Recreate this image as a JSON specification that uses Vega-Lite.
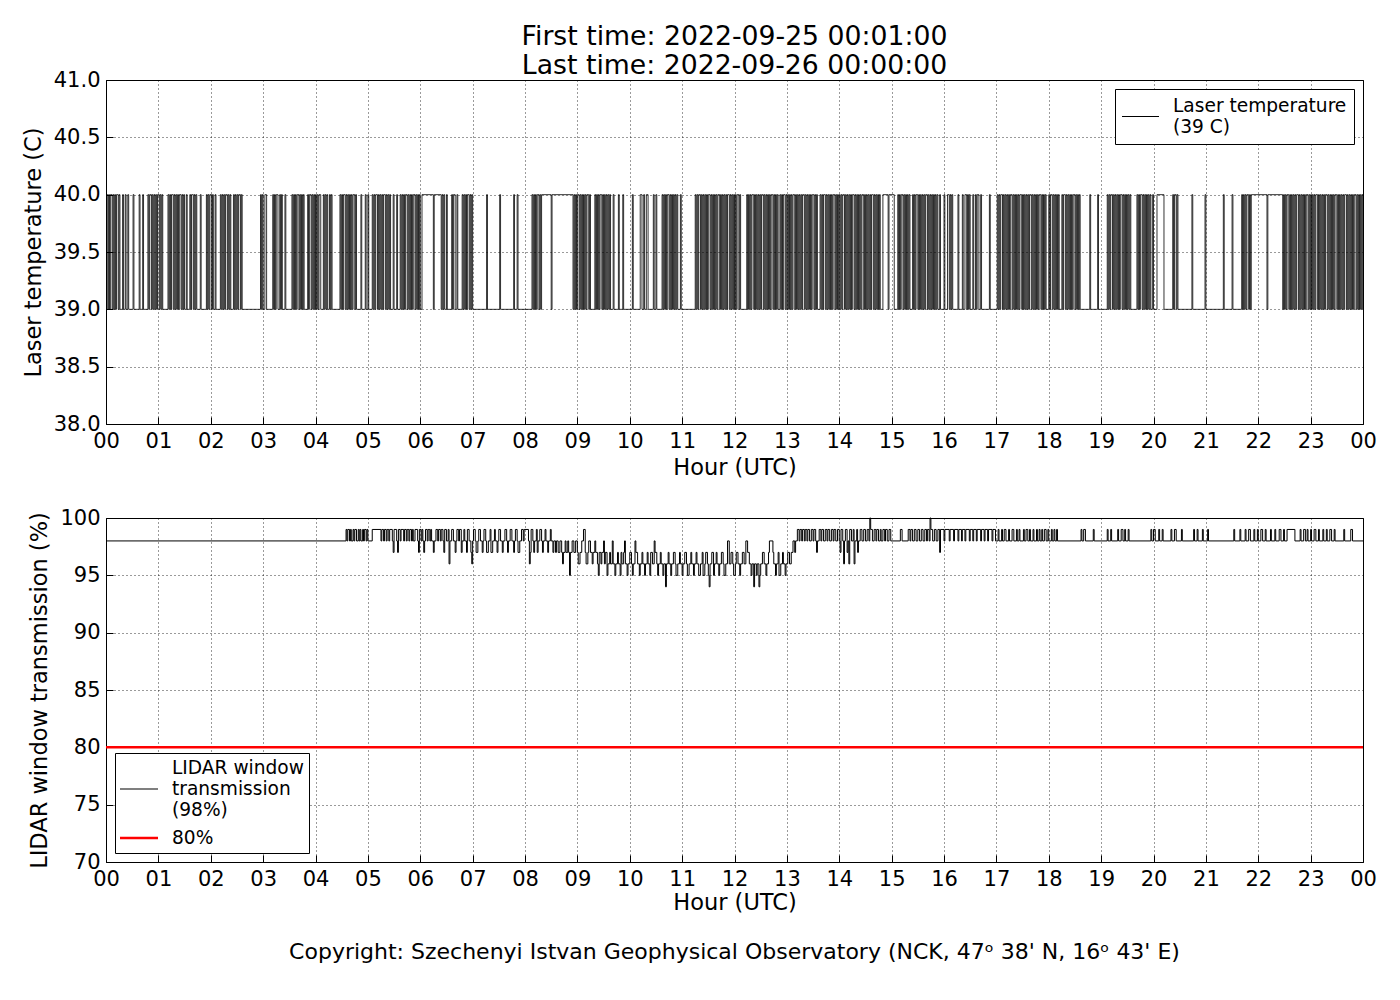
{
  "$schema": "https://vega.github.io/schema/vega-lite/v6.json",
  "background": "white",
  "padding": {"left": 21, "top": 23, "right": 10, "bottom": 10},
  "config": {
    "font": "DejaVu Sans",
    "view": {"stroke": "black", "strokeWidth": 1},
    "axis": {
      "domain": false,
      "grid": true,
      "gridColor": "black",
      "gridDash": [1, 3],
      "gridWidth": 0.8,
      "tickColor": "black",
      "tickSize": -7,
      "tickWidth": 1,
      "labelPadding": 13,
      "labelFontSize": 21,
      "labelColor": "black",
      "labelFlush": false,
      "labelOverlap": false,
      "titleFontSize": 22.5,
      "titleFontWeight": "normal",
      "titleColor": "black",
      "titlePadding": 8
    },
    "legend": {
      "strokeColor": "black",
      "fillColor": "white",
      "cornerRadius": 0,
      "labelFontSize": 18.6,
      "labelColor": "black",
      "labelOffset": 14,
      "labelLimit": 400,
      "rowPadding": 8,
      "symbolType": "stroke"
    }
  },
  "datasets": {
    "laser": [
      {"m":1,"v":40},{"m":2,"v":39},{"m":3,"v":40},{"m":4,"v":39},{"m":5,"v":40},{"m":7,"v":39},{"m":8,"v":40},{"m":9,"v":39},{"m":10,"v":40},{"m":11,"v":39},{"m":12,"v":40},{"m":14,"v":39},{"m":15,"v":40},{"m":16,"v":39},
      {"m":19,"v":40},{"m":20,"v":39},{"m":22,"v":40},{"m":23,"v":39},{"m":25,"v":40},{"m":26,"v":39},{"m":31,"v":40},{"m":32,"v":39},{"m":38,"v":40},{"m":39,"v":39},{"m":42,"v":40},{"m":43,"v":39},
      {"m":48,"v":40},{"m":49,"v":39},{"m":50,"v":40},{"m":52,"v":39},{"m":53,"v":40},{"m":54,"v":39},{"m":55,"v":40},{"m":56,"v":39},{"m":57,"v":40},{"m":58,"v":39},{"m":59,"v":40},{"m":61,"v":39},{"m":62,"v":40},{"m":63,"v":39},{"m":64,"v":40},{"m":65,"v":39},
      {"m":71,"v":40},{"m":72,"v":39},{"m":73,"v":40},{"m":74,"v":39},{"m":75,"v":40},{"m":77,"v":39},{"m":78,"v":40},{"m":79,"v":39},{"m":80,"v":40},{"m":81,"v":39},{"m":82,"v":40},{"m":83,"v":39},{"m":84,"v":40},{"m":86,"v":39},{"m":87,"v":40},{"m":88,"v":39},
      {"m":89,"v":40},{"m":90,"v":39},{"m":92,"v":40},{"m":93,"v":39},{"m":96,"v":40},{"m":97,"v":39},{"m":98,"v":40},{"m":100,"v":39},{"m":101,"v":40},{"m":102,"v":39},{"m":103,"v":40},{"m":104,"v":39},{"m":108,"v":40},{"m":109,"v":39},
      {"m":115,"v":40},{"m":116,"v":39},{"m":117,"v":40},{"m":118,"v":39},{"m":119,"v":40},{"m":121,"v":39},{"m":122,"v":40},{"m":123,"v":39},{"m":125,"v":40},{"m":126,"v":39},
      {"m":131,"v":40},{"m":132,"v":39},{"m":133,"v":40},{"m":134,"v":39},{"m":135,"v":40},{"m":136,"v":39},{"m":137,"v":40},{"m":139,"v":39},{"m":140,"v":40},{"m":141,"v":39},{"m":142,"v":40},{"m":143,"v":39},
      {"m":146,"v":40},{"m":147,"v":39},{"m":148,"v":40},{"m":149,"v":39},{"m":150,"v":40},{"m":151,"v":39},{"m":152,"v":40},{"m":154,"v":39},{"m":155,"v":40},{"m":156,"v":39},
      {"m":177,"v":40},{"m":178,"v":39},{"m":179,"v":40},{"m":180,"v":39},{"m":182,"v":40},{"m":184,"v":39},
      {"m":191,"v":40},{"m":192,"v":39},{"m":193,"v":40},{"m":194,"v":39},{"m":195,"v":40},{"m":197,"v":39},{"m":199,"v":40},{"m":200,"v":39},{"m":201,"v":40},{"m":202,"v":39},{"m":205,"v":40},{"m":206,"v":39},
      {"m":213,"v":40},{"m":214,"v":39},{"m":215,"v":40},{"m":216,"v":39},{"m":217,"v":40},{"m":218,"v":39},{"m":219,"v":40},{"m":221,"v":39},{"m":222,"v":40},{"m":223,"v":39},{"m":224,"v":40},{"m":225,"v":39},{"m":226,"v":40},{"m":227,"v":39},
      {"m":231,"v":40},{"m":232,"v":39},{"m":233,"v":40},{"m":235,"v":39},{"m":236,"v":40},{"m":237,"v":39},{"m":238,"v":40},{"m":239,"v":39},{"m":240,"v":40},{"m":241,"v":39},{"m":242,"v":40},{"m":243,"v":39},{"m":244,"v":40},{"m":246,"v":39},
      {"m":249,"v":40},{"m":250,"v":39},{"m":251,"v":40},{"m":252,"v":39},{"m":253,"v":40},{"m":254,"v":39},{"m":256,"v":40},{"m":257,"v":39},{"m":258,"v":40},{"m":259,"v":39},
      {"m":268,"v":40},{"m":269,"v":39},{"m":270,"v":40},{"m":271,"v":39},{"m":272,"v":40},{"m":274,"v":39},{"m":275,"v":40},{"m":276,"v":39},{"m":277,"v":40},{"m":278,"v":39},{"m":279,"v":40},{"m":280,"v":39},{"m":281,"v":40},{"m":282,"v":39},{"m":283,"v":40},{"m":285,"v":39},{"m":286,"v":40},{"m":287,"v":39},
      {"m":292,"v":40},{"m":293,"v":39},{"m":297,"v":40},{"m":298,"v":39},{"m":300,"v":40},{"m":301,"v":39},
      {"m":305,"v":40},{"m":306,"v":39},{"m":307,"v":40},{"m":308,"v":39},{"m":309,"v":40},{"m":311,"v":39},{"m":312,"v":40},{"m":313,"v":39},{"m":314,"v":40},{"m":315,"v":39},{"m":316,"v":40},{"m":317,"v":39},{"m":318,"v":40},{"m":320,"v":39},{"m":321,"v":40},{"m":322,"v":39},{"m":323,"v":40},{"m":324,"v":39},{"m":325,"v":40},{"m":326,"v":39},
      {"m":329,"v":40},{"m":330,"v":39},{"m":333,"v":40},{"m":334,"v":39},
      {"m":337,"v":40},{"m":338,"v":39},{"m":339,"v":40},{"m":340,"v":39},{"m":341,"v":40},{"m":342,"v":39},{"m":343,"v":40},{"m":345,"v":39},{"m":346,"v":40},{"m":347,"v":39},{"m":348,"v":40},{"m":349,"v":39},{"m":350,"v":40},{"m":351,"v":39},{"m":352,"v":40},{"m":354,"v":39},{"m":355,"v":40},{"m":356,"v":39},{"m":357,"v":40},{"m":358,"v":39},{"m":359,"v":40},{"m":360,"v":39},
      {"m":362,"v":40},{"m":375,"v":39},{"m":376,"v":40},{"m":384,"v":39},
      {"m":385,"v":40},{"m":386,"v":39},{"m":387,"v":40},{"m":388,"v":39},{"m":390,"v":40},{"m":391,"v":39},{"m":396,"v":40},{"m":397,"v":39},{"m":398,"v":40},{"m":400,"v":39},{"m":402,"v":40},{"m":403,"v":39},
      {"m":408,"v":40},{"m":409,"v":39},{"m":410,"v":40},{"m":411,"v":39},{"m":412,"v":40},{"m":413,"v":39},{"m":414,"v":40},{"m":416,"v":39},{"m":417,"v":40},{"m":418,"v":39},{"m":419,"v":40},{"m":420,"v":39},
      {"m":436,"v":40},{"m":437,"v":39},{"m":451,"v":40},{"m":452,"v":39},{"m":467,"v":40},{"m":468,"v":39},{"m":471,"v":40},{"m":472,"v":39},
      {"m":488,"v":40},{"m":489,"v":39},{"m":490,"v":40},{"m":491,"v":39},{"m":492,"v":40},{"m":493,"v":39},{"m":494,"v":40},{"m":496,"v":39},{"m":497,"v":40},{"m":498,"v":39},
      {"m":499,"v":40},{"m":510,"v":39},{"m":511,"v":40},{"m":535,"v":39},
      {"m":536,"v":40},{"m":537,"v":39},{"m":538,"v":40},{"m":539,"v":39},{"m":540,"v":40},{"m":542,"v":39},{"m":543,"v":40},{"m":544,"v":39},{"m":545,"v":40},{"m":546,"v":39},{"m":547,"v":40},{"m":548,"v":39},{"m":549,"v":40},{"m":550,"v":39},{"m":551,"v":40},{"m":553,"v":39},{"m":554,"v":40},{"m":555,"v":39},
      {"m":560,"v":40},{"m":561,"v":39},{"m":562,"v":40},{"m":563,"v":39},{"m":564,"v":40},{"m":565,"v":39},{"m":566,"v":40},{"m":568,"v":39},{"m":569,"v":40},{"m":570,"v":39},{"m":571,"v":40},{"m":572,"v":39},{"m":573,"v":40},{"m":574,"v":39},{"m":575,"v":40},{"m":576,"v":39},{"m":577,"v":40},{"m":578,"v":39},
      {"m":581,"v":40},{"m":582,"v":39},{"m":587,"v":40},{"m":588,"v":39},{"m":592,"v":40},{"m":593,"v":39},
      {"m":603,"v":40},{"m":604,"v":39},{"m":612,"v":40},{"m":614,"v":39},{"m":616,"v":40},{"m":617,"v":39},{"m":619,"v":40},{"m":621,"v":39},{"m":627,"v":40},{"m":628,"v":39},{"m":630,"v":40},{"m":631,"v":39},
      {"m":637,"v":40},{"m":638,"v":39},{"m":639,"v":40},{"m":640,"v":39},{"m":641,"v":40},{"m":642,"v":39},{"m":643,"v":40},{"m":645,"v":39},{"m":646,"v":40},{"m":647,"v":39},{"m":648,"v":40},{"m":649,"v":39},{"m":650,"v":40},{"m":651,"v":39},{"m":652,"v":40},{"m":653,"v":39},{"m":654,"v":40},{"m":655,"v":39},
      {"m":658,"v":40},{"m":659,"v":39},
      {"m":675,"v":40},{"m":676,"v":39},{"m":677,"v":40},{"m":678,"v":39},{"m":679,"v":40},{"m":681,"v":39},{"m":682,"v":40},{"m":683,"v":39},{"m":684,"v":40},{"m":685,"v":39},{"m":686,"v":40},{"m":687,"v":39},{"m":688,"v":40},{"m":689,"v":39},{"m":690,"v":40},{"m":692,"v":39},{"m":693,"v":40},{"m":694,"v":39},{"m":695,"v":40},{"m":696,"v":39},{"m":697,"v":40},{"m":698,"v":39},{"m":699,"v":40},{"m":700,"v":39},{"m":701,"v":40},{"m":703,"v":39},{"m":704,"v":40},{"m":705,"v":39},{"m":706,"v":40},{"m":707,"v":39},{"m":708,"v":40},{"m":709,"v":39},{"m":710,"v":40},{"m":711,"v":39},{"m":712,"v":40},{"m":714,"v":39},{"m":715,"v":40},{"m":716,"v":39},{"m":717,"v":40},{"m":718,"v":39},{"m":719,"v":40},{"m":720,"v":39},{"m":721,"v":40},{"m":722,"v":39},{"m":723,"v":40},{"m":725,"v":39},{"m":726,"v":40},{"m":727,"v":39},
      {"m":734,"v":40},{"m":735,"v":39},{"m":736,"v":40},{"m":737,"v":39},{"m":738,"v":40},{"m":739,"v":39},{"m":740,"v":40},{"m":742,"v":39},{"m":743,"v":40},{"m":744,"v":39},{"m":745,"v":40},{"m":746,"v":39},{"m":747,"v":40},{"m":748,"v":39},{"m":749,"v":40},{"m":750,"v":39},{"m":751,"v":40},{"m":753,"v":39},{"m":754,"v":40},{"m":755,"v":39},{"m":756,"v":40},{"m":757,"v":39},{"m":758,"v":40},{"m":759,"v":39},{"m":760,"v":40},{"m":761,"v":39},{"m":762,"v":40},{"m":764,"v":39},{"m":765,"v":40},{"m":766,"v":39},{"m":767,"v":40},{"m":768,"v":39},{"m":769,"v":40},{"m":770,"v":39},
      {"m":772,"v":40},{"m":773,"v":39},{"m":774,"v":40},{"m":775,"v":39},{"m":776,"v":40},{"m":778,"v":39},{"m":779,"v":40},{"m":780,"v":39},{"m":781,"v":40},{"m":782,"v":39},{"m":783,"v":40},{"m":784,"v":39},{"m":785,"v":40},{"m":786,"v":39},{"m":787,"v":40},{"m":789,"v":39},{"m":790,"v":40},{"m":791,"v":39},{"m":792,"v":40},{"m":793,"v":39},{"m":794,"v":40},{"m":795,"v":39},{"m":796,"v":40},{"m":797,"v":39},{"m":798,"v":40},{"m":800,"v":39},{"m":801,"v":40},{"m":802,"v":39},{"m":803,"v":40},{"m":804,"v":39},{"m":805,"v":40},{"m":806,"v":39},{"m":807,"v":40},{"m":808,"v":39},{"m":809,"v":40},{"m":811,"v":39},{"m":812,"v":40},{"m":813,"v":39},{"m":814,"v":40},{"m":815,"v":39},
      {"m":818,"v":40},{"m":819,"v":39},{"m":820,"v":40},{"m":821,"v":39},{"m":822,"v":40},{"m":824,"v":39},{"m":825,"v":40},{"m":826,"v":39},{"m":827,"v":40},{"m":828,"v":39},{"m":829,"v":40},{"m":830,"v":39},{"m":831,"v":40},{"m":832,"v":39},{"m":833,"v":40},{"m":835,"v":39},{"m":836,"v":40},{"m":837,"v":39},{"m":838,"v":40},{"m":839,"v":39},{"m":840,"v":40},{"m":841,"v":39},{"m":842,"v":40},{"m":843,"v":39},{"m":844,"v":40},{"m":846,"v":39},{"m":847,"v":40},{"m":848,"v":39},{"m":849,"v":40},{"m":850,"v":39},{"m":851,"v":40},{"m":852,"v":39},{"m":853,"v":40},{"m":854,"v":39},{"m":855,"v":40},{"m":857,"v":39},{"m":858,"v":40},{"m":859,"v":39},{"m":860,"v":40},{"m":861,"v":39},{"m":862,"v":40},{"m":863,"v":39},{"m":864,"v":40},{"m":865,"v":39},{"m":866,"v":40},{"m":868,"v":39},{"m":869,"v":40},{"m":870,"v":39},{"m":871,"v":40},{"m":872,"v":39},{"m":873,"v":40},{"m":874,"v":39},{"m":875,"v":40},{"m":876,"v":39},{"m":877,"v":40},{"m":879,"v":39},{"m":880,"v":40},{"m":881,"v":39},{"m":882,"v":40},{"m":883,"v":39},{"m":884,"v":40},{"m":885,"v":39},{"m":886,"v":40},{"m":887,"v":39},
      {"m":890,"v":40},{"m":896,"v":39},{"m":897,"v":40},{"m":903,"v":39},
      {"m":907,"v":40},{"m":908,"v":39},{"m":909,"v":40},{"m":910,"v":39},{"m":911,"v":40},{"m":913,"v":39},{"m":914,"v":40},{"m":915,"v":39},{"m":916,"v":40},{"m":917,"v":39},{"m":918,"v":40},{"m":919,"v":39},{"m":920,"v":40},{"m":921,"v":39},
      {"m":924,"v":40},{"m":925,"v":39},{"m":926,"v":40},{"m":927,"v":39},{"m":928,"v":40},{"m":930,"v":39},{"m":931,"v":40},{"m":932,"v":39},{"m":933,"v":40},{"m":934,"v":39},{"m":935,"v":40},{"m":936,"v":39},{"m":937,"v":40},{"m":938,"v":39},{"m":939,"v":40},{"m":941,"v":39},{"m":942,"v":40},{"m":943,"v":39},{"m":944,"v":40},{"m":945,"v":39},{"m":946,"v":40},{"m":947,"v":39},
      {"m":948,"v":40},{"m":949,"v":39},{"m":950,"v":40},{"m":951,"v":39},{"m":952,"v":40},{"m":953,"v":39},
      {"m":955,"v":40},{"m":956,"v":39},{"m":960,"v":40},{"m":961,"v":39},{"m":964,"v":40},{"m":966,"v":39},{"m":967,"v":40},{"m":968,"v":39},{"m":969,"v":40},{"m":970,"v":39},
      {"m":976,"v":40},{"m":977,"v":39},{"m":981,"v":40},{"m":982,"v":39},{"m":984,"v":40},{"m":986,"v":39},{"m":987,"v":40},{"m":988,"v":39},{"m":989,"v":40},{"m":990,"v":39},{"m":993,"v":40},{"m":994,"v":39},{"m":996,"v":40},{"m":997,"v":39},{"m":998,"v":40},{"m":1000,"v":39},{"m":1002,"v":40},{"m":1003,"v":39},
      {"m":1012,"v":40},{"m":1013,"v":39},
      {"m":1021,"v":40},{"m":1022,"v":39},{"m":1023,"v":40},{"m":1024,"v":39},{"m":1025,"v":40},{"m":1027,"v":39},{"m":1028,"v":40},{"m":1029,"v":39},{"m":1030,"v":40},{"m":1031,"v":39},{"m":1032,"v":40},{"m":1033,"v":39},{"m":1034,"v":40},{"m":1035,"v":39},{"m":1036,"v":40},{"m":1038,"v":39},{"m":1039,"v":40},{"m":1040,"v":39},{"m":1041,"v":40},{"m":1042,"v":39},{"m":1043,"v":40},{"m":1044,"v":39},{"m":1045,"v":40},{"m":1046,"v":39},{"m":1047,"v":40},{"m":1049,"v":39},{"m":1050,"v":40},{"m":1051,"v":39},{"m":1052,"v":40},{"m":1053,"v":39},{"m":1054,"v":40},{"m":1055,"v":39},{"m":1056,"v":40},{"m":1057,"v":39},{"m":1058,"v":40},{"m":1060,"v":39},{"m":1061,"v":40},{"m":1062,"v":39},{"m":1063,"v":40},{"m":1064,"v":39},{"m":1065,"v":40},{"m":1066,"v":39},{"m":1067,"v":40},{"m":1068,"v":39},{"m":1069,"v":40},{"m":1071,"v":39},{"m":1072,"v":40},{"m":1073,"v":39},{"m":1074,"v":40},{"m":1075,"v":39},{"m":1076,"v":40},{"m":1077,"v":39},{"m":1080,"v":40},{"m":1081,"v":39},{"m":1082,"v":40},{"m":1084,"v":39},{"m":1085,"v":40},{"m":1086,"v":39},{"m":1087,"v":40},{"m":1088,"v":39},{"m":1089,"v":40},{"m":1090,"v":39},{"m":1091,"v":40},{"m":1092,"v":39},{"m":1095,"v":40},{"m":1096,"v":39},{"m":1097,"v":40},{"m":1099,"v":39},{"m":1100,"v":40},{"m":1101,"v":39},{"m":1102,"v":40},{"m":1103,"v":39},{"m":1104,"v":40},{"m":1105,"v":39},{"m":1106,"v":40},{"m":1107,"v":39},{"m":1108,"v":40},{"m":1110,"v":39},{"m":1111,"v":40},{"m":1112,"v":39},{"m":1113,"v":40},{"m":1114,"v":39},{"m":1115,"v":40},{"m":1116,"v":39},
      {"m":1127,"v":40},{"m":1128,"v":39},{"m":1136,"v":40},{"m":1137,"v":39},
      {"m":1147,"v":40},{"m":1148,"v":39},{"m":1149,"v":40},{"m":1150,"v":39},{"m":1151,"v":40},{"m":1153,"v":39},{"m":1154,"v":40},{"m":1155,"v":39},{"m":1156,"v":40},{"m":1157,"v":39},{"m":1158,"v":40},{"m":1159,"v":39},{"m":1160,"v":40},{"m":1161,"v":39},{"m":1162,"v":40},{"m":1164,"v":39},{"m":1165,"v":40},{"m":1166,"v":39},{"m":1167,"v":40},{"m":1168,"v":39},{"m":1169,"v":40},{"m":1170,"v":39},{"m":1171,"v":40},{"m":1172,"v":39},{"m":1173,"v":40},{"m":1174,"v":39},
      {"m":1181,"v":40},{"m":1182,"v":39},{"m":1183,"v":40},{"m":1184,"v":39},{"m":1185,"v":40},{"m":1187,"v":39},{"m":1188,"v":40},{"m":1189,"v":39},{"m":1190,"v":40},{"m":1191,"v":39},{"m":1192,"v":40},{"m":1193,"v":39},{"m":1194,"v":40},{"m":1195,"v":39},{"m":1196,"v":40},{"m":1197,"v":39},
      {"m":1199,"v":40},{"m":1200,"v":39},{"m":1204,"v":40},{"m":1212,"v":39},
      {"m":1222,"v":40},{"m":1223,"v":39},{"m":1224,"v":40},{"m":1226,"v":39},{"m":1227,"v":40},{"m":1228,"v":39},
      {"m":1244,"v":40},{"m":1245,"v":39},{"m":1259,"v":40},{"m":1260,"v":39},{"m":1280,"v":40},{"m":1281,"v":39},{"m":1290,"v":40},{"m":1291,"v":39},
      {"m":1301,"v":40},{"m":1302,"v":39},{"m":1303,"v":40},{"m":1304,"v":39},{"m":1305,"v":40},{"m":1306,"v":39},{"m":1307,"v":40},{"m":1309,"v":39},{"m":1310,"v":40},{"m":1311,"v":39},
      {"m":1312,"v":40},{"m":1330,"v":39},{"m":1331,"v":40},{"m":1348,"v":39},
      {"m":1349,"v":40},{"m":1350,"v":39},{"m":1351,"v":40},{"m":1352,"v":39},{"m":1353,"v":40},{"m":1355,"v":39},{"m":1356,"v":40},{"m":1357,"v":39},{"m":1358,"v":40},{"m":1359,"v":39},{"m":1360,"v":40},{"m":1361,"v":39},{"m":1362,"v":40},{"m":1363,"v":39},{"m":1364,"v":40},{"m":1366,"v":39},{"m":1367,"v":40},{"m":1368,"v":39},{"m":1369,"v":40},{"m":1370,"v":39},{"m":1371,"v":40},{"m":1372,"v":39},{"m":1373,"v":40},{"m":1374,"v":39},{"m":1375,"v":40},{"m":1377,"v":39},{"m":1378,"v":40},{"m":1379,"v":39},{"m":1380,"v":40},{"m":1381,"v":39},{"m":1382,"v":40},{"m":1383,"v":39},{"m":1384,"v":40},{"m":1385,"v":39},{"m":1386,"v":40},{"m":1388,"v":39},{"m":1389,"v":40},{"m":1390,"v":39},{"m":1391,"v":40},{"m":1392,"v":39},{"m":1393,"v":40},{"m":1394,"v":39},{"m":1395,"v":40},{"m":1396,"v":39},{"m":1397,"v":40},{"m":1399,"v":39},{"m":1400,"v":40},{"m":1401,"v":39},{"m":1402,"v":40},{"m":1403,"v":39},{"m":1404,"v":40},{"m":1405,"v":39},{"m":1406,"v":40},{"m":1407,"v":39},{"m":1408,"v":40},{"m":1410,"v":39},{"m":1411,"v":40},{"m":1412,"v":39},{"m":1413,"v":40},{"m":1414,"v":39},{"m":1415,"v":40},{"m":1416,"v":39},{"m":1417,"v":40},{"m":1418,"v":39},{"m":1419,"v":40},{"m":1421,"v":39},{"m":1422,"v":40},{"m":1423,"v":39},{"m":1424,"v":40},{"m":1425,"v":39},{"m":1426,"v":40},{"m":1427,"v":39},{"m":1428,"v":40},{"m":1429,"v":39},{"m":1430,"v":40},{"m":1432,"v":39},{"m":1433,"v":40},{"m":1434,"v":39},{"m":1435,"v":40},{"m":1436,"v":39},{"m":1437,"v":40},{"m":1438,"v":39},{"m":1439,"v":40},{"m":1440,"v":39}
    ],
    "lidar": [
      {"m":1,"v":98},{"m":275,"v":99},{"m":276,"v":98},{"m":277,"v":99},{"m":279,"v":98},{"m":280,"v":99},{"m":281,"v":98},{"m":283,"v":99},{"m":284,"v":98},{"m":285,"v":99},{"m":287,"v":98},{"m":289,"v":99},{"m":290,"v":98},{"m":291,"v":99},{"m":292,"v":98},{"m":294,"v":99},{"m":295,"v":98},{"m":296,"v":99},{"m":298,"v":98},{"m":299,"v":99},{"m":300,"v":98},
      {"m":305,"v":99},{"m":315,"v":98},{"m":316,"v":99},{"m":318,"v":98},{"m":319,"v":99},{"m":321,"v":98},{"m":322,"v":99},{"m":324,"v":98},{"m":325,"v":99},{"m":328,"v":98},{"m":329,"v":97},{"m":330,"v":99},{"m":333,"v":98},{"m":334,"v":97},{"m":335,"v":99},{"m":337,"v":98},{"m":338,"v":99},{"m":341,"v":98},{"m":342,"v":99},{"m":344,"v":98},{"m":345,"v":99},{"m":347,"v":98},{"m":348,"v":99},{"m":350,"v":98},{"m":351,"v":99},{"m":352,"v":98},{"m":354,"v":99},{"m":357,"v":98},{"m":358,"v":97},{"m":359,"v":99},
      {"m":361,"v":98},{"m":362,"v":99},{"m":363,"v":98},{"m":364,"v":97},{"m":365,"v":98},{"m":366,"v":99},{"m":368,"v":98},{"m":369,"v":99},{"m":371,"v":98},{"m":372,"v":99},{"m":373,"v":98},{"m":375,"v":97},{"m":376,"v":98},{"m":378,"v":99},{"m":380,"v":98},{"m":381,"v":99},{"m":383,"v":98},{"m":384,"v":99},{"m":386,"v":98},{"m":387,"v":97},{"m":388,"v":99},{"m":390,"v":98},{"m":392,"v":99},{"m":393,"v":96},{"m":394,"v":98},{"m":396,"v":99},{"m":398,"v":98},{"m":400,"v":97},{"m":401,"v":98},{"m":402,"v":99},{"m":404,"v":98},{"m":405,"v":99},{"m":407,"v":97},{"m":408,"v":98},{"m":410,"v":99},{"m":411,"v":98},{"m":413,"v":97},{"m":414,"v":99},{"m":416,"v":98},{"m":418,"v":97},{"m":419,"v":96},
      {"m":420,"v":98},{"m":421,"v":99},{"m":423,"v":98},{"m":424,"v":97},{"m":426,"v":98},{"m":427,"v":99},{"m":429,"v":98},{"m":431,"v":97},{"m":432,"v":98},{"m":433,"v":99},{"m":435,"v":98},{"m":436,"v":97},{"m":438,"v":98},{"m":440,"v":99},{"m":441,"v":97},{"m":443,"v":98},{"m":445,"v":99},{"m":446,"v":98},{"m":448,"v":97},{"m":449,"v":98},{"m":450,"v":99},{"m":452,"v":98},{"m":454,"v":97},{"m":455,"v":98},{"m":457,"v":99},{"m":459,"v":98},{"m":460,"v":97},{"m":461,"v":98},{"m":463,"v":99},{"m":465,"v":98},{"m":467,"v":97},{"m":468,"v":98},{"m":469,"v":99},{"m":471,"v":98},{"m":472,"v":97},{"m":474,"v":98},{"m":476,"v":99},{"m":478,"v":98},{"m":479,"v":99},
      {"m":484,"v":98},{"m":485,"v":96},{"m":486,"v":97},{"m":487,"v":99},{"m":489,"v":98},{"m":490,"v":97},{"m":491,"v":98},{"m":493,"v":99},{"m":494,"v":97},{"m":495,"v":98},{"m":497,"v":99},{"m":499,"v":98},{"m":500,"v":97},{"m":501,"v":98},{"m":503,"v":99},{"m":504,"v":98},{"m":506,"v":97},{"m":507,"v":98},{"m":509,"v":99},{"m":510,"v":98},{"m":512,"v":97},{"m":513,"v":98},{"m":515,"v":97},{"m":516,"v":98},{"m":518,"v":97},{"m":520,"v":98},{"m":522,"v":97},{"m":523,"v":96},{"m":524,"v":97},{"m":526,"v":98},{"m":527,"v":97},{"m":529,"v":98},{"m":530,"v":97},{"m":531,"v":95},{"m":532,"v":97},{"m":534,"v":98},{"m":536,"v":97},{"m":538,"v":98},
      {"m":540,"v":97},{"m":541,"v":96},{"m":543,"v":97},{"m":545,"v":98},{"m":547,"v":99},{"m":549,"v":97},{"m":550,"v":96},{"m":552,"v":97},{"m":553,"v":98},{"m":555,"v":97},{"m":557,"v":96},{"m":558,"v":97},{"m":560,"v":98},{"m":561,"v":97},{"m":563,"v":96},{"m":564,"v":95},{"m":565,"v":97},{"m":567,"v":96},{"m":568,"v":97},{"m":570,"v":98},{"m":571,"v":96},{"m":572,"v":97},{"m":574,"v":95},{"m":575,"v":96},{"m":577,"v":97},{"m":578,"v":96},{"m":580,"v":98},{"m":581,"v":96},{"m":583,"v":95},{"m":584,"v":96},{"m":586,"v":97},{"m":587,"v":96},{"m":589,"v":95},{"m":590,"v":97},{"m":591,"v":96},{"m":593,"v":97},{"m":594,"v":98},{"m":595,"v":96},{"m":597,"v":95},{"m":598,"v":96},
      {"m":600,"v":97},{"m":602,"v":96},{"m":603,"v":95},{"m":604,"v":96},{"m":606,"v":98},{"m":607,"v":97},{"m":609,"v":96},{"m":611,"v":95},{"m":612,"v":96},{"m":614,"v":97},{"m":615,"v":96},{"m":617,"v":95},{"m":618,"v":96},{"m":620,"v":97},{"m":621,"v":96},{"m":623,"v":95},{"m":624,"v":97},{"m":626,"v":96},{"m":628,"v":98},{"m":629,"v":97},{"m":631,"v":96},{"m":632,"v":95},{"m":633,"v":96},{"m":635,"v":97},{"m":636,"v":96},{"m":638,"v":95},{"m":639,"v":96},{"m":641,"v":94},{"m":642,"v":96},{"m":644,"v":97},{"m":645,"v":96},{"m":647,"v":95},{"m":648,"v":96},{"m":650,"v":97},{"m":652,"v":96},{"m":653,"v":95},{"m":655,"v":96},{"m":657,"v":97},{"m":658,"v":96},
      {"m":660,"v":95},{"m":661,"v":96},{"m":663,"v":97},{"m":665,"v":96},{"m":666,"v":95},{"m":668,"v":96},{"m":670,"v":97},{"m":671,"v":96},{"m":673,"v":95},{"m":674,"v":96},{"m":676,"v":97},{"m":677,"v":96},{"m":679,"v":95},{"m":681,"v":96},{"m":683,"v":97},{"m":684,"v":95},{"m":686,"v":96},{"m":687,"v":97},{"m":689,"v":96},{"m":690,"v":95},{"m":691,"v":94},{"m":692,"v":96},{"m":694,"v":97},{"m":696,"v":95},{"m":697,"v":96},{"m":699,"v":97},{"m":700,"v":96},{"m":702,"v":95},{"m":703,"v":96},{"m":705,"v":97},{"m":707,"v":96},{"m":708,"v":95},{"m":710,"v":96},{"m":712,"v":98},{"m":714,"v":96},{"m":716,"v":97},{"m":718,"v":96},
      {"m":719,"v":95},{"m":721,"v":96},{"m":722,"v":97},{"m":724,"v":96},{"m":726,"v":95},{"m":727,"v":96},{"m":729,"v":97},{"m":731,"v":96},{"m":733,"v":98},{"m":735,"v":97},{"m":737,"v":96},{"m":739,"v":95},{"m":740,"v":96},{"m":742,"v":94},{"m":743,"v":96},{"m":745,"v":95},{"m":746,"v":96},{"m":748,"v":94},{"m":749,"v":95},{"m":750,"v":96},{"m":752,"v":97},{"m":754,"v":96},{"m":756,"v":95},{"m":757,"v":96},{"m":759,"v":97},{"m":760,"v":98},{"m":764,"v":97},{"m":765,"v":96},{"m":767,"v":95},{"m":768,"v":96},{"m":770,"v":97},{"m":771,"v":95},{"m":773,"v":96},{"m":775,"v":97},{"m":776,"v":96},{"m":778,"v":95},{"m":779,"v":96},{"m":781,"v":97},{"m":783,"v":96},{"m":785,"v":97},
      {"m":787,"v":98},{"m":789,"v":97},{"m":790,"v":98},{"m":792,"v":99},{"m":794,"v":98},{"m":795,"v":99},{"m":797,"v":98},{"m":798,"v":99},{"m":800,"v":98},{"m":801,"v":99},{"m":803,"v":98},{"m":804,"v":99},{"m":806,"v":98},{"m":808,"v":99},{"m":810,"v":98},{"m":811,"v":99},{"m":813,"v":98},{"m":814,"v":97},{"m":815,"v":98},{"m":817,"v":99},{"m":819,"v":98},{"m":820,"v":99},{"m":822,"v":98},{"m":824,"v":99},{"m":826,"v":98},{"m":827,"v":99},{"m":829,"v":98},{"m":831,"v":99},{"m":833,"v":98},{"m":834,"v":99},{"m":836,"v":98},{"m":838,"v":99},{"m":840,"v":98},{"m":841,"v":97},{"m":842,"v":99},{"m":844,"v":98},{"m":845,"v":96},{"m":846,"v":98},{"m":847,"v":99},{"m":849,"v":97},{"m":850,"v":98},{"m":851,"v":96},{"m":852,"v":99},{"m":854,"v":98},{"m":856,"v":99},{"m":857,"v":96},{"m":858,"v":98},{"m":860,"v":99},{"m":861,"v":97},{"m":862,"v":98},{"m":864,"v":99},{"m":866,"v":98},{"m":868,"v":99},{"m":870,"v":98},{"m":872,"v":99},{"m":874,"v":98},{"m":875,"v":100},{"m":876,"v":99},{"m":878,"v":98},
      {"m":880,"v":99},{"m":882,"v":98},{"m":883,"v":99},{"m":885,"v":98},{"m":887,"v":99},{"m":888,"v":98},{"m":890,"v":99},{"m":892,"v":98},{"m":893,"v":99},{"m":895,"v":98},{"m":897,"v":99},{"m":899,"v":98},{"m":910,"v":99},{"m":912,"v":98},{"m":919,"v":99},{"m":921,"v":98},{"m":922,"v":99},{"m":924,"v":98},{"m":926,"v":99},{"m":928,"v":98},{"m":930,"v":99},{"m":932,"v":98},{"m":934,"v":99},{"m":936,"v":98},{"m":938,"v":99},{"m":940,"v":98},{"m":941,"v":99},{"m":943,"v":98},{"m":944,"v":100},{"m":945,"v":99},{"m":947,"v":98},{"m":949,"v":99},{"m":951,"v":98},{"m":953,"v":99},{"m":955,"v":97},{"m":956,"v":99},
      {"m":960,"v":98},{"m":961,"v":99},{"m":966,"v":98},{"m":967,"v":99},{"m":971,"v":98},{"m":972,"v":99},{"m":976,"v":98},{"m":977,"v":99},{"m":980,"v":98},{"m":981,"v":99},{"m":984,"v":98},{"m":985,"v":99},{"m":989,"v":98},{"m":990,"v":99},{"m":993,"v":98},{"m":994,"v":99},{"m":997,"v":98},{"m":998,"v":99},{"m":1002,"v":98},{"m":1003,"v":99},{"m":1006,"v":98},{"m":1007,"v":99},{"m":1010,"v":98},{"m":1011,"v":99},{"m":1015,"v":98},{"m":1016,"v":99},{"m":1019,"v":98},
      {"m":1022,"v":99},{"m":1023,"v":98},{"m":1026,"v":99},{"m":1027,"v":98},{"m":1029,"v":99},{"m":1031,"v":98},{"m":1034,"v":99},{"m":1035,"v":98},{"m":1038,"v":99},{"m":1040,"v":98},{"m":1043,"v":99},{"m":1044,"v":98},{"m":1046,"v":99},{"m":1047,"v":98},{"m":1051,"v":99},{"m":1052,"v":98},{"m":1054,"v":99},{"m":1056,"v":98},{"m":1058,"v":99},{"m":1059,"v":98},{"m":1062,"v":99},{"m":1063,"v":98},{"m":1066,"v":99},{"m":1067,"v":98},{"m":1069,"v":99},{"m":1070,"v":98},{"m":1072,"v":99},{"m":1073,"v":98},{"m":1075,"v":99},{"m":1077,"v":98},{"m":1079,"v":99},{"m":1080,"v":98},{"m":1083,"v":99},{"m":1084,"v":98},{"m":1086,"v":99},{"m":1087,"v":98},{"m":1089,"v":99},{"m":1090,"v":98},
      {"m":1117,"v":99},{"m":1118,"v":98},{"m":1120,"v":99},{"m":1122,"v":98},{"m":1131,"v":99},{"m":1132,"v":98},{"m":1147,"v":99},{"m":1148,"v":98},{"m":1151,"v":99},{"m":1152,"v":98},{"m":1159,"v":99},{"m":1160,"v":98},{"m":1163,"v":99},{"m":1165,"v":98},{"m":1167,"v":99},{"m":1168,"v":98},{"m":1171,"v":99},{"m":1172,"v":98},
      {"m":1197,"v":99},{"m":1198,"v":98},{"m":1200,"v":99},{"m":1202,"v":98},{"m":1206,"v":99},{"m":1207,"v":98},{"m":1210,"v":99},{"m":1211,"v":98},{"m":1220,"v":99},{"m":1221,"v":98},{"m":1224,"v":99},{"m":1226,"v":98},{"m":1232,"v":99},{"m":1233,"v":98},{"m":1246,"v":99},{"m":1247,"v":98},{"m":1250,"v":99},{"m":1251,"v":98},{"m":1256,"v":99},{"m":1257,"v":98},{"m":1262,"v":99},{"m":1263,"v":98},
      {"m":1292,"v":99},{"m":1293,"v":98},{"m":1299,"v":99},{"m":1300,"v":98},{"m":1305,"v":99},{"m":1306,"v":98},{"m":1309,"v":99},{"m":1311,"v":98},{"m":1315,"v":99},{"m":1316,"v":98},{"m":1319,"v":99},{"m":1320,"v":98},{"m":1323,"v":99},{"m":1325,"v":98},{"m":1328,"v":99},{"m":1329,"v":98},{"m":1334,"v":99},{"m":1335,"v":98},{"m":1339,"v":99},{"m":1340,"v":98},{"m":1344,"v":99},{"m":1346,"v":98},{"m":1349,"v":99},{"m":1350,"v":98},{"m":1353,"v":99},{"m":1362,"v":98},
      {"m":1368,"v":99},{"m":1369,"v":98},{"m":1372,"v":99},{"m":1374,"v":98},{"m":1376,"v":99},{"m":1377,"v":98},{"m":1380,"v":99},{"m":1381,"v":98},{"m":1384,"v":99},{"m":1386,"v":98},{"m":1389,"v":99},{"m":1390,"v":98},{"m":1394,"v":99},{"m":1395,"v":98},{"m":1398,"v":99},{"m":1399,"v":98},{"m":1402,"v":99},{"m":1404,"v":98},{"m":1407,"v":99},{"m":1408,"v":98},{"m":1418,"v":99},{"m":1419,"v":98},{"m":1426,"v":99},{"m":1428,"v":98},{"m":1440,"v":98}
    ]
  },
  "bounds": "flush",
  "spacing": 94,
  "resolve": {"scale": {"color": "independent"}, "legend": {"color": "independent"}},
  "vconcat": [
    {
      "width": 1257,
      "height": 344,
      "title": {
        "text": ["First time: 2022-09-25 00:01:00", "Last time: 2022-09-26 00:00:00"],
        "fontSize": 26.7,
        "fontWeight": "normal",
        "color": "black",
        "anchor": "middle",
        "lineHeight": 29,
        "offset": -11
      },
      "data": {"name": "laser"},
      "mark": {"type": "line", "interpolate": "step-after", "strokeWidth": 0.8},
      "encoding": {
        "x": {
          "field": "m",
          "type": "quantitative",
          "scale": {"domain": [0, 1440], "nice": false, "zero": false},
          "axis": {
            "title": "Hour (UTC)",
            "titlePadding": 5,
            "values": [0, 60, 120, 180, 240, 300, 360, 420, 480, 540, 600, 660, 720, 780, 840, 900, 960, 1020, 1080, 1140, 1200, 1260, 1320, 1380, 1440],
            "labelExpr": "format(floor(datum.value / 60) % 24, '02d')"
          }
        },
        "y": {
          "field": "v",
          "type": "quantitative",
          "scale": {"domain": [38, 41], "nice": false, "zero": false},
          "axis": {
            "title": "Laser temperature (C)",
            "values": [38, 38.5, 39, 39.5, 40, 40.5, 41],
            "format": ".1f"
          }
        },
        "color": {
          "datum": "Laser temperature|(39 C)",
          "scale": {"domain": ["Laser temperature|(39 C)"], "range": ["black"]},
          "legend": {
            "title": null,
            "orient": "top-right",
            "offset": 9,
            "padding": 7,
            "symbolSize": 1369,
            "symbolStrokeWidth": 1.2,
            "labelExpr": "split(datum.label, '|')",
            "encode": {
              "symbols": {"update": {"x": {"value": 18.5}, "y": {"value": 20.5}}},
              "labels": {"update": {"lineHeight": {"value": 21}, "x": {"value": 51}, "y": {"value": 10}}}
            }
          }
        }
      }
    },
    {
      "width": 1257,
      "height": 344,
      "title": {
        "text": "Copyright: Szechenyi Istvan Geophysical Observatory (NCK, 47ᵒ  38' N, 16ᵒ  43' E)",
        "orient": "bottom",
        "anchor": "middle",
        "fontSize": 22,
        "fontWeight": "normal",
        "color": "black",
        "offset": 28
      },
      "layer": [
        {
          "data": {"name": "lidar"},
          "mark": {"type": "line", "interpolate": "step-after", "strokeWidth": 1},
          "encoding": {
            "x": {
              "field": "m",
              "type": "quantitative",
              "scale": {"domain": [0, 1440], "nice": false, "zero": false},
              "axis": {
                "title": "Hour (UTC)",
                "titlePadding": 2,
                "values": [0, 60, 120, 180, 240, 300, 360, 420, 480, 540, 600, 660, 720, 780, 840, 900, 960, 1020, 1080, 1140, 1200, 1260, 1320, 1380, 1440],
                "labelExpr": "format(floor(datum.value / 60) % 24, '02d')"
              }
            },
            "y": {
              "field": "v",
              "type": "quantitative",
              "scale": {"domain": [70, 100], "nice": false, "zero": false},
              "axis": {
                "title": "LIDAR window transmission (%)",
                "values": [70, 75, 80, 85, 90, 95, 100]
              }
            },
            "color": {
              "datum": "LIDAR window|transmission|(98%)",
              "scale": {"domain": ["LIDAR window|transmission|(98%)", "80%"], "range": ["black", "red"]},
              "legend": {
                "title": null,
                "orient": "bottom-left",
                "offset": 9,
                "padding": 5,
                "symbolSize": 1444,
                "labelExpr": "split(datum.label, '|')",
                "encode": {
                  "symbols": {"update": {
                    "x": {"value": 19},
                    "y": {"signal": "datum.value === '80%' ? 10 : 31"},
                    "strokeWidth": {"signal": "datum.value === '80%' ? 2.5 : 1.2"}
                  }},
                  "labels": {"update": {"lineHeight": {"value": 21}, "x": {"value": 52}, "y": {"value": 10}}}
                }
              }
            }
          }
        },
        {
          "data": {"values": [{"v": 80}]},
          "mark": {"type": "rule", "strokeWidth": 2.5},
          "encoding": {
            "y": {"field": "v", "type": "quantitative"},
            "color": {"datum": "80%"}
          }
        }
      ]
    }
  ]
}
